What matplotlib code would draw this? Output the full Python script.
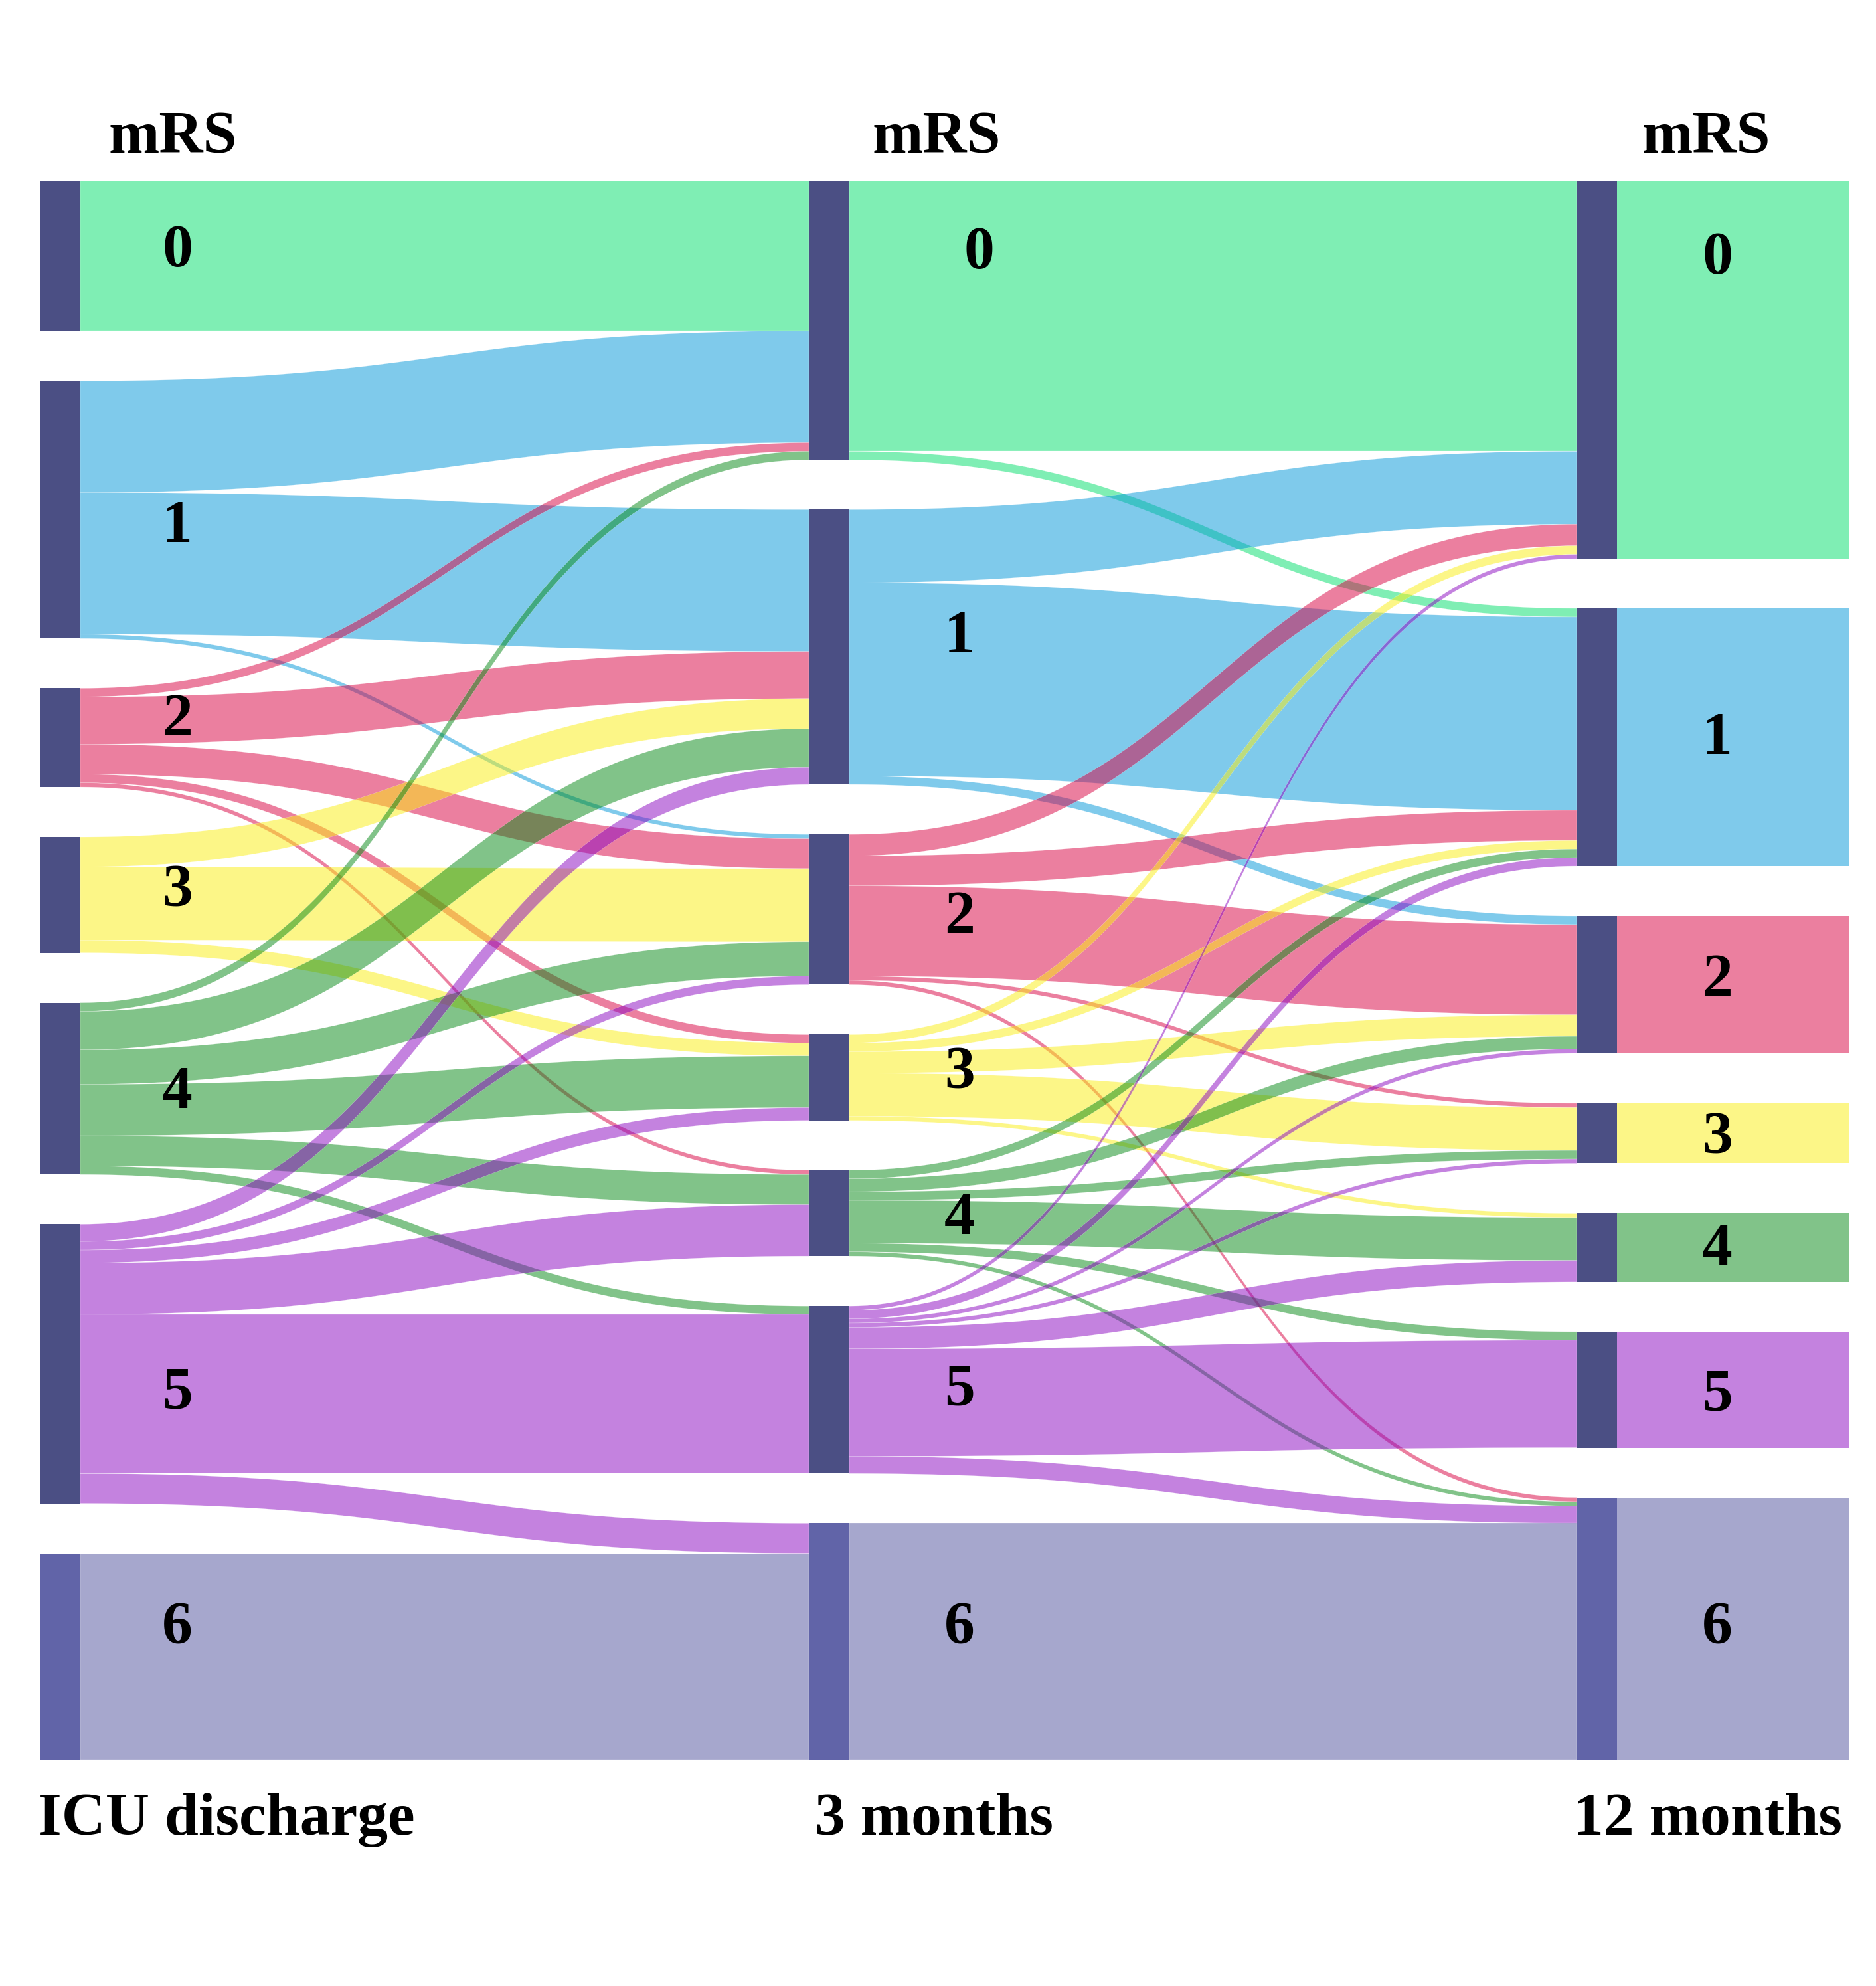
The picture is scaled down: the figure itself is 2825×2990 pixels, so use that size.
import numpy as np
import matplotlib
matplotlib.use("Agg")
import matplotlib.pyplot as plt
from matplotlib.patches import Polygon, Rectangle

# mRS transitions (patients), rows = from, columns = to
mrs_levels = ["0", "1", "2", "3", "4", "5", "6"]
stage_names = ["ICU discharge", "3 months", "12 months"]

flows_icu_3m = [
    [35, 0, 0, 0, 0, 0, 0],
    [26, 33, 1, 0, 0, 0, 0],
    [2, 11, 7, 2, 1, 0, 0],
    [0, 7, 17, 3, 0, 0, 0],
    [2, 9, 8, 12, 7, 2, 0],
    [0, 4, 2, 3, 12, 37, 7],
    [0, 0, 0, 0, 0, 0, 48],
]
flows_3m_12m = [
    [63, 2, 0, 0, 0, 0, 0],
    [17, 45, 2, 0, 0, 0, 0],
    [5, 7, 21, 1, 0, 0, 1],
    [2, 2, 5, 10, 1, 0, 0],
    [0, 2, 3, 2, 10, 2, 1],
    [1, 2, 1, 1, 5, 25, 4],
    [0, 0, 0, 0, 0, 0, 55],
]

level_colors = ["#01df6b", "#0197d9", "#d90041", "#fbef11", "#058915", "#8b07c1", "#4f519d"]
node_color = "#4b4f84"
node6_color = "#6164a8"
ALPHA = 0.5

# layout (pixels)
W, H = 2825, 2990
col_x = [60, 1218, 2374]
bar_w = 61
box_right = 2785
top, bottom, gap = 272, 2649, 75

# number label positions per column (x, y centre)
label_x = [[267] * 7, [1474, 1445, 1445, 1445, 1445, 1445, 1445], [2586] * 7]
label_y = [
    [379, 794, 1085, 1342, 1646, 2099, 2452],
    [382, 960, 1382, 1616, 1836, 2094, 2452],
    [390, 1113, 1477, 1714, 1882, 2102, 2452],
]
header_x = [260, 1410, 2569]
stage_x = [57, 1227, 2369]

flows = [np.array(flows_icu_3m), np.array(flows_3m_12m)]
totals = [flows[0].sum(axis=1), flows[0].sum(axis=0), flows[1].sum(axis=0)]
scale = (bottom - top - gap * 6) / totals[0].sum()

node_top = []
for tot in totals:
    y = top
    tops = []
    for v in tot:
        tops.append(y)
        y += v * scale + gap
    node_top.append(tops)

fig = plt.figure(figsize=(W / 100, H / 100), dpi=100)
ax = fig.add_axes([0, 0, 1, 1])
ax.set_xlim(0, W)
ax.set_ylim(H, 0)
ax.axis("off")


def link(x0, x1, y0a, y0b, y1a, y1b, color):
    t = np.linspace(0, 1, 120)
    xm = (x0 + x1) / 2
    bx = x0 * (1 - t) ** 3 + 3 * xm * (1 - t) ** 2 * t + 3 * xm * (1 - t) * t ** 2 + x1 * t ** 3
    h = 3 * (1 - t) * t ** 2 + t ** 3
    ya = y0a + (y1a - y0a) * h
    yb = y0b + (y1b - y0b) * h
    pts = np.vstack([np.column_stack([bx, ya]), np.column_stack([bx[::-1], yb[::-1]])])
    ax.add_patch(Polygon(pts, closed=True, facecolor=color, alpha=ALPHA,
                         edgecolor="white", linewidth=0.3))


for k, F in enumerate(flows):
    x0 = col_x[k] + bar_w
    x1 = col_x[k + 1]
    n = F.shape[0]
    # incoming order sorted by source, outgoing by target
    in_pos = {}
    for j in range(n):
        y = node_top[k + 1][j]
        for i in range(n):
            if F[i, j] > 0:
                in_pos[(i, j)] = y
                y += F[i, j] * scale
    for i in range(n):
        y = node_top[k][i]
        for j in range(n):
            v = F[i, j]
            if v <= 0:
                continue
            th = v * scale
            yi = in_pos[(i, j)]
            link(x0, x1, y, y + th, yi, yi + th, level_colors[i])
            y += th

# boxes at the last column
for j, v in enumerate(totals[2]):
    ax.add_patch(Rectangle((col_x[2] + bar_w, node_top[2][j]), box_right - col_x[2] - bar_w,
                           v * scale, facecolor=level_colors[j], alpha=ALPHA, linewidth=0))

# node bars
for c in range(3):
    for j, v in enumerate(totals[c]):
        fc = node6_color if j == 6 else node_color
        ax.add_patch(Rectangle((col_x[c], node_top[c][j]), bar_w, v * scale,
                               facecolor=fc, linewidth=0, zorder=3))

font = dict(family="Liberation Serif", fontweight="bold", fontsize=66, color="black")
for c in range(3):
    for j, lab in enumerate(mrs_levels):
        ax.text(label_x[c][j], label_y[c][j], lab, ha="center", va="center", zorder=4, **font)
    ax.text(header_x[c], 230, "mRS", ha="center", va="baseline", **font)
    ax.text(stage_x[c], 2762, stage_names[c], ha="left", va="baseline", **font)

fig.savefig("out.png", dpi=100, facecolor="white")
